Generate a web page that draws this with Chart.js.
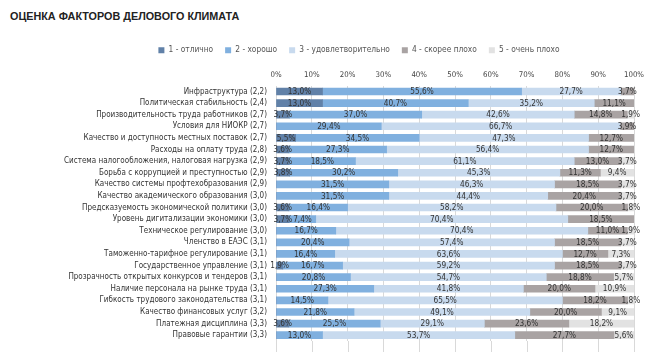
<!DOCTYPE html>
<html><head><meta charset="utf-8">
<script src="https://cdn.jsdelivr.net/npm/chart.js@4.4.1/dist/chart.umd.min.js"></script>
<style>
html,body{margin:0;padding:0;background:#fff;}
#wrap{position:relative;width:662px;height:355px;}
#title{position:absolute;left:10px;top:10px;font:bold 10.8px "Liberation Sans",Arial,sans-serif;color:#222;}
canvas{position:absolute;left:0;top:0;}
</style></head>
<body><div id="wrap"><div id="title">ОЦЕНКА ФАКТОРОВ ДЕЛОВОГО КЛИМАТА</div><canvas id="c" width="662" height="355"></canvas></div>
<script>
const categories = [
 "Инфраструктура (2,2)",
 "Политическая стабильность (2,4)",
 "Производительность труда работников (2,7)",
 "Условия для НИОКР (2,7)",
 "Качество и доступность местных поставок (2,7)",
 "Расходы на оплату труда (2,8)",
 "Система налогообложения, налоговая нагрузка (2,9)",
 "Борьба с коррупцией и преступностью (2,9)",
 "Качество системы профтехобразования (2,9)",
 "Качество академического образования (3,0)",
 "Предсказуемость экономической политики (3,0)",
 "Уровень дигитализации экономики (3,0)",
 "Техническое регулирование (3,0)",
 "Членство в ЕАЭС (3,1)",
 "Таможенно-тарифное регулирование (3,1)",
 "Государственное управление (3,1)",
 "Прозрачность открытых конкурсов и тендеров (3,1)",
 "Наличие персонала на рынке труда (3,1)",
 "Гибкость трудового законодательства (3,1)",
 "Качество финансовых услуг (3,2)",
 "Платежная дисциплина (3,3)",
 "Правовые гарантии (3,3)"
];
const seriesNames = ["1 - отлично","2 - хорошо","3 - удовлетворительно","4 - скорее плохо","5 - очень плохо"];
const excellent    = [13.0,13.0,3.7,0,5.5,3.6,3.7,3.8,0,0,3.6,3.7,0,0,0,1.9,0,0,0,0,3.6,0];
const good         = [55.6,40.7,37.0,29.4,34.5,27.3,18.5,30.2,31.5,31.5,16.4,7.4,16.7,20.4,16.4,16.7,20.8,27.3,14.5,21.8,25.5,13.0];
const satisfactory = [27.7,35.2,42.6,66.7,47.3,56.4,61.1,45.3,46.3,44.4,58.2,70.4,70.4,57.4,63.6,59.2,54.7,41.8,65.5,49.1,29.1,53.7];
const ratherBad    = [3.7,11.1,14.8,3.9,12.7,12.7,13.0,11.3,18.5,20.4,20.0,18.5,11.0,18.5,12.7,18.5,18.8,20.0,18.2,20.0,23.6,27.7];
const veryBad      = [0,0,1.9,0,0,0,3.7,9.4,3.7,3.7,1.8,0,1.9,3.7,7.3,3.7,5.7,10.9,1.8,9.1,18.2,5.6];
const xTicks = [0,10,20,30,40,50,60,70,80,90,100];

const colors = ["#6181a8","#80b0df","#c8daee","#a9a3a3","#e2e2e2"];
const seriesData = [excellent,good,satisfactory,ratherBad,veryBad];

const FONT = "'DejaVu Sans Condensed', 'DejaVu Sans', sans-serif";

const segLabels = {
  id:'segLabels',
  afterDatasetsDraw(chart){
    const ctx = chart.ctx; ctx.save();
    ctx.font = "8.2px " + FONT; ctx.fillStyle = "#333"; ctx.textAlign = "center"; ctx.textBaseline = "middle";
    chart.data.datasets.forEach((ds,i)=>{
      const meta = chart.getDatasetMeta(i);
      meta.data.forEach((bar,j)=>{
        const v = ds.data[j]; if(!v) return;
        ctx.fillText(v.toFixed(1).replace('.',',')+'%', (bar.x+bar.base)/2, bar.y+0.5);
      });
    });
    ctx.restore();
  }
};
const gridExtend = {
  id:'gridExtend',
  beforeDatasetsDraw(chart){
    const ctx = chart.ctx, xs = chart.scales.x, a = chart.chartArea;
    ctx.save(); ctx.strokeStyle = "#d9d9d9"; ctx.lineWidth = 1;
    xTicks.forEach(t=>{ const x = Math.round(xs.getPixelForValue(t))+0.5; ctx.beginPath(); ctx.moveTo(x,a.bottom); ctx.lineTo(x,a.bottom+11); ctx.stroke(); });
    ctx.restore();
  }
};
const legendShift = {
  id:'legendShift',
  afterLayout(chart){ const lg = chart.legend; if(lg){ lg.left += 42; lg.right += 42; } }
};

new Chart(document.getElementById('c'), {
  type:'bar',
  data:{
    labels: categories,
    datasets: seriesNames.map((n,i)=>({label:n,data:seriesData[i],backgroundColor:colors[i],borderWidth:0,barThickness:7}))
  },
  options:{
    indexAxis:'y', responsive:false, animation:false,
    layout:{padding:{left:0,right:28,top:34,bottom:14}},
    plugins:{
      legend:{position:'top',labels:{boxWidth:6,boxHeight:6,padding:12,color:'#555',font:{size:8.3,family:FONT}}},
      tooltip:{enabled:false}
    },
    scales:{
      x:{position:'top',stacked:true,min:0,max:100,
         grid:{color:'#d9d9d9',drawTicks:false},border:{display:false},
         ticks:{stepSize:10,padding:6,color:'#444',font:{size:7.8,family:FONT},callback:v=>v+'%'}},
      y:{stacked:true,grid:{display:false},border:{display:false},
         ticks:{padding:1,color:'#333',font:{size:8,family:FONT},autoSkip:false},
         afterFit(s){ s.width = 276; }}
    }
  },
  plugins:[segLabels,gridExtend,legendShift]
});
</script></body></html>
